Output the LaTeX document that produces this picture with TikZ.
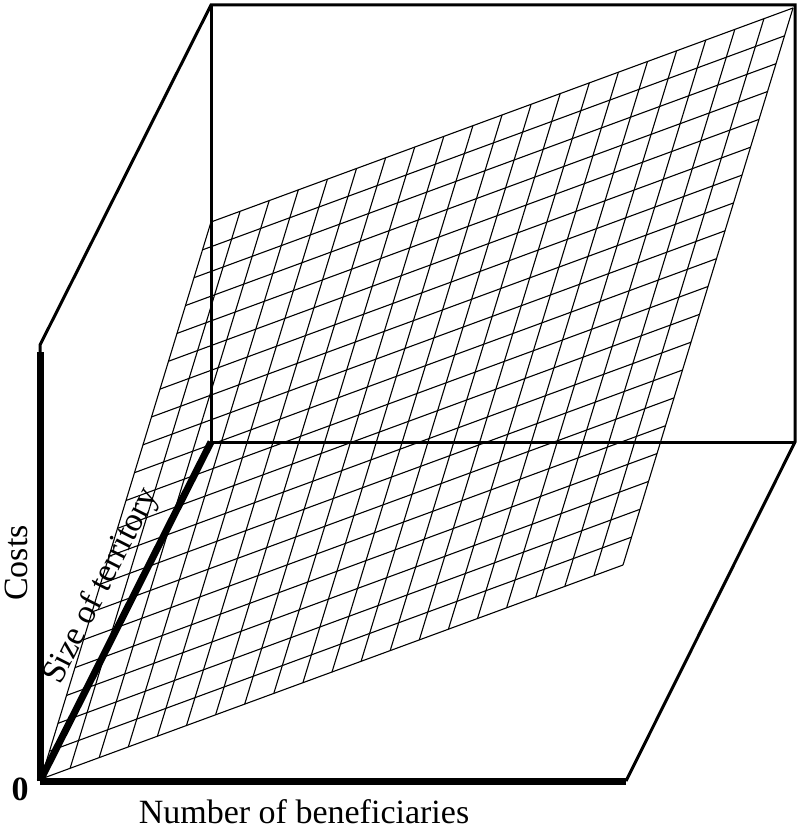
\documentclass[tikz,border=0pt]{standalone}
\usepackage{fontspec}
\setmainfont{Liberation Serif}
\usetikzlibrary{calc}
\begin{document}
\begin{tikzpicture}[x=1pt,y=-1pt,
  thinbox/.style={line width=3pt,line join=miter},
  thickaxis/.style={line width=7pt},
  gridline/.style={line width=1.1pt},
  lbl/.style={font=\fontsize{34}{40}\selectfont,inner sep=0pt}]
\useasboundingbox (0,0) rectangle (800,834);
% grid corners
\coordinate (O) at (41,779);
\coordinate (A) at (623,565);
\coordinate (C) at (793,8);
\coordinate (B) at (211,222);
% box corners
\coordinate (o) at (40,781);
\coordinate (xend) at (626,781);
\coordinate (bbl) at (211,442);
\coordinate (bbr) at (795,442);
\coordinate (btl) at (211,5);
\coordinate (btr) at (795,5);
\coordinate (zt) at (40,352);
\coordinate (zk) at (40,345);
% grid
\foreach \i in {0,...,20}{
  \draw[gridline] ($(O)!\i/20!(A)$) -- ($(B)!\i/20!(C)$);
  \draw[gridline] ($(O)!\i/20!(B)$) -- ($(A)!\i/20!(C)$);
}
% box
\draw[thinbox] (zt) -- (zk) -- (btl) -- (btr) -- (bbr) -- (xend);
\draw[thinbox] (btl) -- (bbl) -- (bbr);
\draw[thickaxis] (o) -- (zt);
\draw[thickaxis] (o) -- (bbl);
\draw[thickaxis] (o) -- (xend);
% labels
\node[lbl,anchor=base,rotate=90] (costs) at (27,563) {Costs};
\node[lbl,anchor=base] (zero) at (20,800) {\textbf{0}};
\node[lbl,anchor=base] (nb) at (304,823) {Number of beneficiaries};
\node[lbl,anchor=base,rotate=63] (st) at (109,590) {Size of territory};
\end{tikzpicture}
\end{document}
